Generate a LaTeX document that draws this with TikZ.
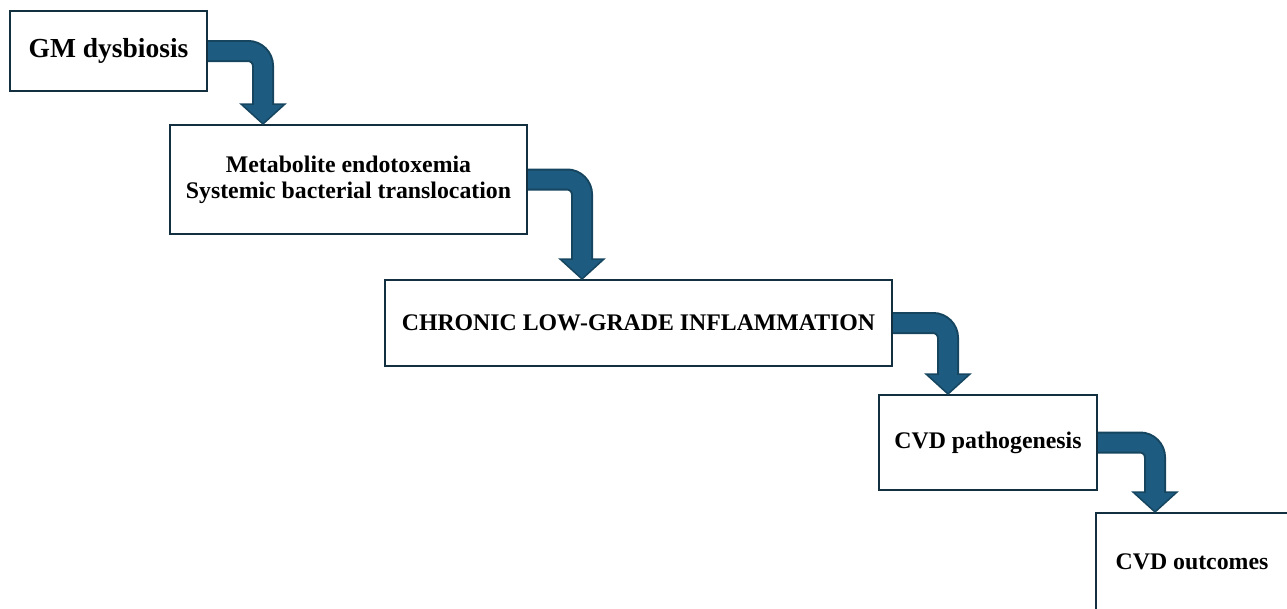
\documentclass[tikz,border=0pt]{standalone}
\usepackage{fontspec}
\setmainfont{Liberation Serif}
\usetikzlibrary{calc}
\definecolor{boxline}{HTML}{12303F}
\definecolor{arrowfill}{HTML}{1D5C80}
\definecolor{arrowline}{HTML}{16455F}
\tikzset{
  stage/.style={draw=boxline,line width=2pt,fill=white,inner sep=0pt,align=center,
    font=\bfseries\fontsize{23.8}{26}\selectfont},
  shaftout/.style={draw=arrowline,line width=22pt,rounded corners=15pt},
  shaftin/.style={draw=arrowfill,line width=18pt,rounded corners=15pt},
  head/.style={fill=arrowfill,draw=arrowline,line width=1.5pt,line join=miter}
}
% bent arrow from the east side of #1 down onto the top of #2, #3 = offset from #2's left edge
\newcommand{\stepdown}[3]{
  \coordinate (tip) at ($(#2.north west)+(#3,0)$);
  \draw[shaftout] (#1.east) -| ($(tip)+(0,-20)$);
  \path[head] ($(tip)+(-22,-20)$) -- ($(tip)+(22,-20)$) -- (tip) -- cycle;
  \draw[shaftin] (#1.east) -| ($(tip)+(0,-18.5)$);
}
\begin{document}
\begin{tikzpicture}[x=1pt,y=-1pt]
\useasboundingbox (0,0) rectangle (1287,608);
\clip (0,0) rectangle (1287,608);
\node[stage,minimum width=197,minimum height=80,font=\bfseries\fontsize{27.5}{30}\selectfont] (gm) at (108.5,51) {GM dysbiosis};
\node[stage,minimum width=357,minimum height=109] (endo) at (348.5,179.5) {Metabolite endotoxemia\\Systemic bacterial translocation};
\node[stage,minimum width=507,minimum height=86] (infl) at (638.5,323) {CHRONIC LOW-GRADE INFLAMMATION};
\node[stage,minimum width=218,minimum height=95] (patho) at (988,442.5) {CVD pathogenesis};
\node[stage,minimum width=198,minimum height=98] (outc) at (1195,562) {};
\node[font=\bfseries\fontsize{23.8}{26}\selectfont] (outctext) at (1192,562) {CVD outcomes};
% arrows
\stepdown{gm}{endo}{94}
\stepdown{endo}{infl}{198}
\stepdown{infl}{patho}{70}
\stepdown{patho}{outc}{60}
\end{tikzpicture}
\end{document}
